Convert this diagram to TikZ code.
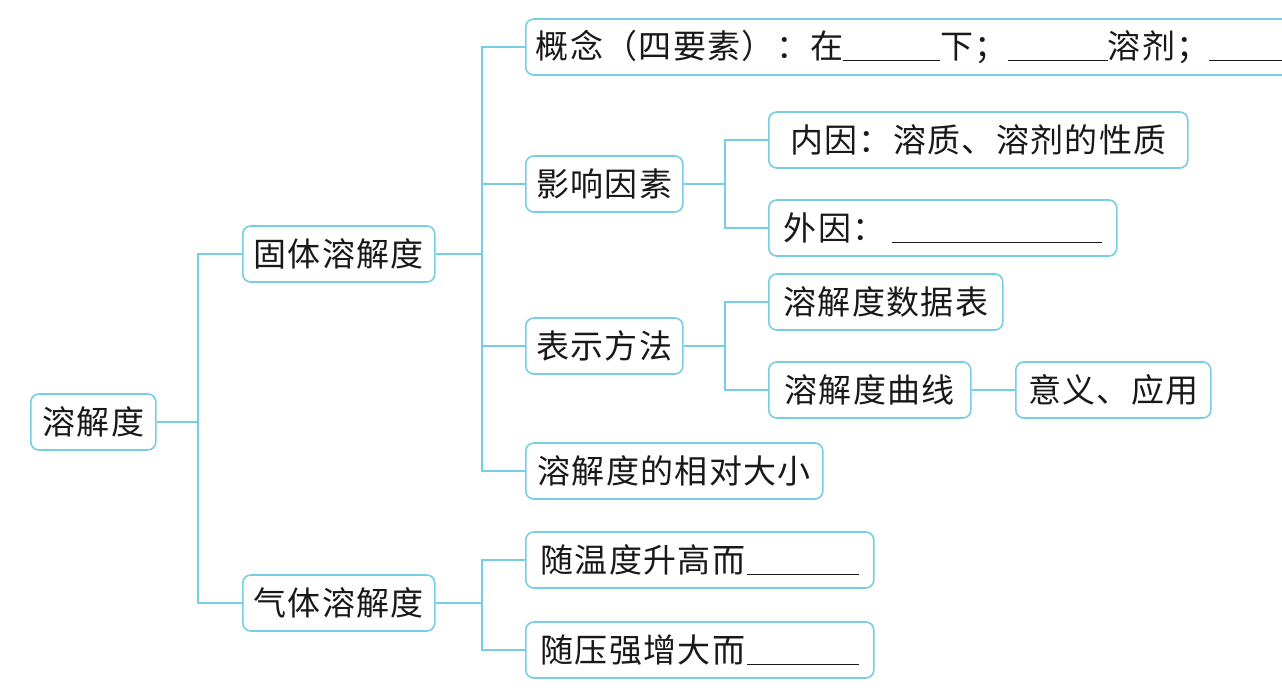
\documentclass[tikz,border=0pt]{standalone}
\usepackage{fontspec}
\newfontfamily\cjk[LetterSpace=4]{Noto Sans CJK SC}
\usetikzlibrary{calc}
\definecolor{mapline}{RGB}{118,206,228}
\newcommand{\blank}[1]{\rule[-3pt]{#1}{1.3pt}}

\begin{document}
\begin{tikzpicture}[x=1pt, y=-1pt,
  box/.style={draw=mapline, line width=1.6pt, rounded corners=8pt, fill=white,
    anchor=west, minimum height=56pt, inner xsep=10pt, inner ysep=0pt,
    font=\cjk\fontsize{33}{36}\selectfont, text=black!90},
  link/.style={mapline, line width=1.5pt}]
\clip (0,0) rectangle (1282,697);
\fill[white] (0,0) rectangle (1282,697);

% first level
\node[box, minimum width=125pt] (rjd) at (30,422) {溶解度};
\node[box, minimum width=192pt] (gtr) at (242,254) {固体溶解度};
\node[box, minimum width=192pt] (qtr) at (242,603) {气体溶解度};

% solid branch
\node[box] (gn) at (525,47) {概念（四要素）：在\blank{97pt}下；\blank{100pt}溶剂；\blank{100pt}\hspace{30pt}};
\node[box, minimum width=157pt] (yx) at (525,184) {影响因素};
\node[box, minimum width=157pt] (bs) at (525,346) {表示方法};
\node[box, minimum width=297pt] (xd) at (525,471) {溶解度的相对大小};
\node[box, minimum width=419pt] (ny) at (768,140) {内因：溶质、溶剂的性质};
\node[box, minimum width=348pt] (wy) at (768,228) {外因：\hspace{6pt}\blank{210pt}};
\node[box, minimum width=234pt] (sjb) at (768,302) {溶解度数据表};
\node[box, minimum width=202pt] (qx) at (768,390) {溶解度曲线};
\node[box, minimum width=195pt] (yy) at (1015,390) {意义、应用};

% gas branch
\node[box, minimum width=348pt] (wd) at (525,560) {随温度升高而\hspace{2pt}\blank{112pt}};
\node[box, minimum width=348pt] (yq) at (525,650) {随压强增大而\hspace{2pt}\blank{112pt}};

% junctions
\coordinate (j1) at (198,422);
\coordinate (j2) at (482,254);
\coordinate (j3) at (725,184);
\coordinate (j4) at (725,346);
\coordinate (j5) at (482,603);

% connectors
\draw[link] (rjd.east) -- (j1);
\foreach \n in {gtr,qtr} \draw[link] (j1) |- (\n.west);
\draw[link] (gtr.east) -- (j2);
\foreach \n in {gn,yx,bs,xd} \draw[link] (j2) |- (\n.west);
\draw[link] (yx.east) -- (j3);
\foreach \n in {ny,wy} \draw[link] (j3) |- (\n.west);
\draw[link] (bs.east) -- (j4);
\foreach \n in {sjb,qx} \draw[link] (j4) |- (\n.west);
\draw[link] (qx) -- (yy);
\draw[link] (qtr.east) -- (j5);
\foreach \n in {wd,yq} \draw[link] (j5) |- (\n.west);
\end{tikzpicture}
\end{document}
